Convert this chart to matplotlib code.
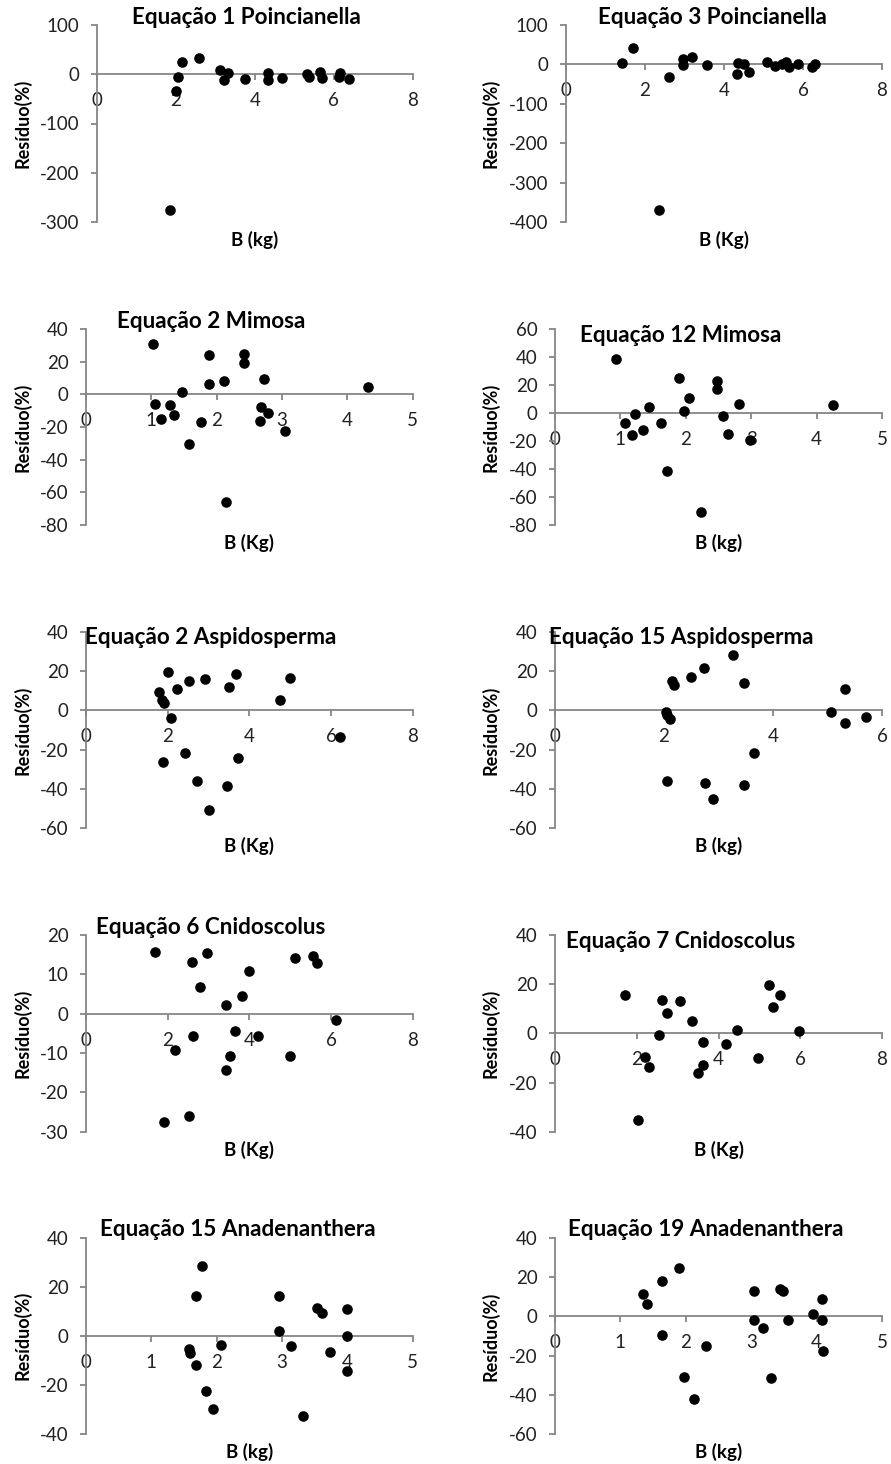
import matplotlib
matplotlib.use("Agg")
import matplotlib.pyplot as plt
import numpy as np

plt.rcParams['font.family'] = ['Lato', 'DejaVu Sans']
plt.rcParams['axes.unicode_minus'] = False

W, H = 891, 1464
AXC = '#868686'

# --- data (B in kg, residual in %) ---
eq1_poin_b = [1.85, 2.0, 2.06, 2.17, 2.59, 3.12, 3.21, 3.31, 3.76, 4.32, 4.33, 4.68,
              5.31, 5.38, 5.66, 5.71, 6.12, 6.16, 6.37]
eq1_poin_r = [-275, -35, -5, 25, 34, 8, -11, 3, -10, 3, -12, -7,
              0, -5, 5, -7, -5, 3, -10]

eq3_poin_b = [1.43, 1.69, 2.36, 2.61, 2.95, 2.95, 3.18, 3.56, 4.34, 4.36, 4.50, 4.63,
              5.08, 5.29, 5.46, 5.56, 5.65, 5.88, 6.24, 6.30]
eq3_poin_r = [3, 42, -370, -31, 13, -2, 19, -2, -25, 3, 0, -19,
              5, -4, 1, 5, -6, 1, -6, 1]

eq2_mim_b = [1.03, 1.05, 1.15, 1.28, 1.34, 1.47, 1.57, 1.76, 1.88, 1.89, 2.11, 2.15,
             2.42, 2.42, 2.66, 2.68, 2.72, 2.79, 3.04, 4.31]
eq2_mim_r = [30.6, -5.9, -15.3, -6.5, -12.4, 1.4, -30.4, -17.1, 6.3, 24.3, 8.4, -66,
             24.7, 19.2, -16.3, -7.6, 9.2, -11.2, -22.2, 4.5]

eq12_mim_b = [0.93, 1.07, 1.18, 1.22, 1.35, 1.44, 1.62, 1.71, 1.89, 1.97, 2.05, 2.23,
              2.48, 2.48, 2.57, 2.65, 2.82, 2.98, 4.25]
eq12_mim_r = [38.3, -6.9, -16, -0.5, -12.4, 4, -7.4, -41.7, 24.8, 1.4, 10.5, -71,
              22.6, 16.9, -2.4, -15.2, 6.4, -19.5, 5.5]

eq2_asp_b = [1.79, 1.87, 1.91, 1.88, 2.01, 2.07, 2.22, 2.43, 2.53, 2.72, 2.92, 3.02,
             3.45, 3.50, 3.68, 3.71, 4.74, 5.0, 6.21]
eq2_asp_r = [9.5, 5.3, 3.9, -26.1, 19.7, -4.1, 11, -21.9, 14.9, -35.8, 15.9, -50.7,
             -38.5, 12, 18.3, -24.2, 5.3, 16.4, -13.4]

eq15_asp_b = [2.03, 2.06, 2.11, 2.05, 2.14, 2.18, 2.50, 2.74, 2.75, 2.90, 3.26, 3.46,
              3.46, 3.65, 5.06, 5.33, 5.33, 5.71]
eq15_asp_r = [-1, -2.4, -4.6, -35.8, 14.9, 12.9, 16.8, 21.5, -37.1, -45.1, 28, 13.9,
              -37.8, -21.5, -1, 11, -6.6, -3.6]

eq6_cni_b = [1.68, 1.90, 2.19, 2.51, 2.59, 2.62, 2.79, 2.97, 3.42, 3.43, 3.52, 3.64,
             3.82, 3.99, 4.21, 4.99, 5.13, 5.56, 5.66, 6.11]
eq6_cni_r = [15.6, -27.6, -9.3, -25.9, 13.1, -5.6, 6.9, 15.3, -14.2, 2.3, -10.7, -4.3,
             4.6, 10.8, -5.6, -10.8, 14.2, 14.6, 13, -1.7]

eq7_cni_b = [1.71, 2.04, 2.21, 2.29, 2.54, 2.61, 2.75, 3.06, 3.36, 3.49, 3.63, 3.63,
             4.18, 4.46, 4.97, 5.23, 5.34, 5.50, 5.98]
eq7_cni_r = [15.6, -35.3, -9.8, -13.8, -0.5, 13.7, 8.4, 13.2, 4.9, -16, -3.5, -13,
             -4.3, 1.5, -10, 19.8, 10.8, 15.7, 0.8]

eq15_ana_b = [1.57, 1.59, 1.68, 1.68, 1.77, 1.84, 1.95, 2.07, 2.95, 2.95, 3.13, 3.32,
              3.54, 3.61, 3.73, 4.0, 4.0, 4.0]
eq15_ana_r = [-5.2, -6.8, -12, 16.3, 28.4, -22.4, -29.8, -3.8, 16.2, 1.8, -4.3, -32.5,
              11.3, 9.5, -6.4, 10.9, -0.1, -14.3]

eq19_ana_b = [1.34, 1.41, 1.64, 1.64, 1.89, 1.97, 2.13, 2.31, 3.05, 3.05, 3.18, 3.30,
              3.44, 3.48, 3.57, 3.95, 4.09, 4.08, 4.10]
eq19_ana_r = [11.5, 6.4, 18, -9.3, 24.7, -30.8, -42.2, -15.1, 12.7, -1.7, -5.9, -31.3,
              13.9, 12.7, -1.9, 1, 8.8, -2, -17.5]

titles = ["Equação 1 Poincianella", "Equação 3 Poincianella",
          "Equação 2 Mimosa", "Equação 12 Mimosa",
          "Equação 2 Aspidosperma", "Equação 15 Aspidosperma",
          "Equação 6 Cnidoscolus", "Equação 7 Cnidoscolus",
          "Equação 15 Anadenanthera", "Equação 19 Anadenanthera"]
xlabels = ["B (kg)", "B (Kg)", "B (Kg)", "B (kg)", "B (Kg)",
           "B (kg)", "B (Kg)", "B (Kg)", "B (kg)", "B (kg)"]
series = [(eq1_poin_b, eq1_poin_r), (eq3_poin_b, eq3_poin_r),
          (eq2_mim_b, eq2_mim_r), (eq12_mim_b, eq12_mim_r),
          (eq2_asp_b, eq2_asp_r), (eq15_asp_b, eq15_asp_r),
          (eq6_cni_b, eq6_cni_r), (eq7_cni_b, eq7_cni_r),
          (eq15_ana_b, eq15_ana_r), (eq19_ana_b, eq19_ana_r)]
# (xmax, xstep, ymin, ymax, ystep)
scales = [(8, 2, -300, 100, 100), (8, 2, -400, 100, 100),
          (5, 1, -80, 40, 20), (5, 1, -80, 60, 20),
          (8, 2, -60, 40, 20), (6, 2, -60, 40, 20),
          (8, 2, -30, 20, 10), (8, 2, -40, 40, 20),
          (5, 1, -40, 40, 20), (5, 1, -60, 40, 20)]

# layout in pixels: left, top, right, bottom of plot area
rects = [(96.7, 25, 413, 222), (566, 25, 882, 222),
         (86, 329, 412.7, 525), (555, 329, 882, 525),
         (86, 631.7, 412.7, 828.3), (555, 631.7, 882, 828.3),
         (86, 935, 412.7, 1131.7), (555, 935, 882, 1131.7),
         (86, 1237.7, 412.7, 1434), (555, 1237.7, 882, 1434.3)]
title_pos = [(246, 17), (712, 17), (211, 322), (681, 335), (211, 638),
             (681, 638), (211, 927), (681, 942), (238, 1230), (706, 1230)]


def fx(x):
    return x / W


def fy(y):
    return 1 - y / H


fig = plt.figure(figsize=(W / 100, H / 100), dpi=100)

for i in range(10):
    l, t, r, b = rects[i]
    ax = fig.add_axes([fx(l), fy(b), (r - l) / W, (b - t) / H])
    xmax, xstep, ymin, ymax, ystep = scales[i]
    xs, ys = series[i]
    ax.scatter(xs, ys, s=58, color='black', zorder=3, clip_on=False, linewidths=0)
    ax.set_xlim(0, xmax)
    ax.set_ylim(ymin, ymax)
    ax.set_xticks(np.arange(0, xmax + 1, xstep))
    ax.set_yticks(np.arange(ymin, ymax + 1, ystep))
    for s in ['top', 'right']:
        ax.spines[s].set_visible(False)
    ax.spines['bottom'].set_position(('data', 0))
    for s in ['left', 'bottom']:
        ax.spines[s].set_color(AXC)
        ax.spines[s].set_linewidth(1.3)
    ax.tick_params(axis='both', direction='out', length=4.5, width=1.3, color=AXC,
                   labelsize=13.5, labelcolor='#222222')
    ax.tick_params(axis='x', pad=8.5)
    ax.tick_params(axis='y', pad=8)
    ax.patch.set_alpha(0)

    # axis titles
    ylx = 22 if i % 2 == 0 else 490
    fig.text(fx(ylx), fy((t + b) / 2), "Resíduo(%)", rotation=90, ha='center',
             va='center', fontsize=13, fontweight='bold', color='black')
    fig.text(fx((l + r) / 2), fy(b + 18), xlabels[i], ha='center', va='center',
             fontsize=13.5, fontweight='bold', color='black')
    tx, ty = title_pos[i]
    fig.text(fx(tx), fy(ty), titles[i], ha='center', va='center',
             fontsize=16.2, fontweight='bold', color='black')

fig.savefig("out.png", dpi=100)
